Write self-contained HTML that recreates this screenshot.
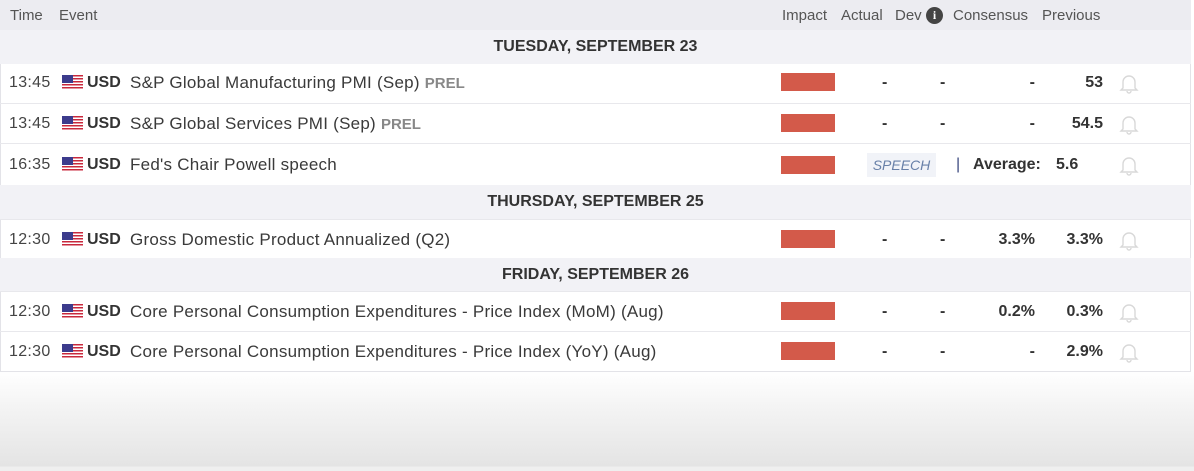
<!DOCTYPE html>
<html><head><meta charset="utf-8"><style>
*{margin:0;padding:0;box-sizing:border-box}
body{width:1194px;height:471px;overflow:hidden;font-family:"Liberation Sans",Arial,sans-serif;color:#333;position:relative;background:linear-gradient(#fff 371px,#f3f3f3 410px,#e4e4e4 466px,#efefef 467px)}
.t{position:absolute;left:0;top:0;width:1191px;height:372px;border:1px solid #e3e3e8;background:#fff}
.hd{position:absolute;left:-1px;top:-1px;width:1191px;height:31px;background:#ececf1;border-bottom:1px solid #dcdce2;font-size:15px;color:#555}
.hd span{position:absolute;top:7px}
.dr{position:absolute;left:-1px;width:1191px;background:#f2f2f6;font-weight:bold;font-size:16px;text-align:center;color:#333}
.r{position:absolute;left:-1px;width:1191px;border-top:1px solid #e8e8ec;font-size:16px}
.r span{position:absolute}
.tm{left:9px;color:#444;letter-spacing:0.3px}
.fl{left:62px;width:21px;height:15px;background:repeating-linear-gradient(#c8283c 0 1.5px,#fff 1.5px 3px)}
.fl:before{content:"";position:absolute;left:0;top:0;width:11px;height:8px;background:#3c3b8c}
.cu{left:87px;font-weight:bold}
.ev{left:130px;color:#3a3a3a;font-size:17px;letter-spacing:0.25px}
.pr{color:#888;font-weight:bold;font-size:15px;letter-spacing:0}
.im{left:781px;width:54px;height:18px;background:#d35a4a}
.d{font-weight:bold}
.v{font-weight:bold;text-align:right}
.bell{left:1119px;width:20px;height:22px}
</style></head><body>
<div class="t">
<div class="hd"><span style="left:10px">Time</span><span style="left:59px">Event</span><span style="left:782px">Impact</span><span style="left:841px">Actual</span><span style="left:895px">Dev</span>
<span style="left:926px;top:7px;width:17px;height:17px;border-radius:50%;background:#444;color:#fff;font-size:12px;font-weight:bold;text-align:center;line-height:17px;font-family:'Liberation Serif',serif">i</span>
<span style="left:953px">Consensus</span><span style="left:1042px">Previous</span></div>

<div class="dr" style="top:29px;height:34px;line-height:33px">TUESDAY, SEPTEMBER 23</div>
<div class="dr" style="top:184px;height:35px;line-height:34px">THURSDAY, SEPTEMBER 25</div>
<div class="dr" style="top:257px;height:34px;line-height:33px">FRIDAY, SEPTEMBER 26</div>

<div class="r" style="top:62px;height:40px;border-top:none"><span class="tm" style="top:11px">13:45</span><span class="fl" style="top:12px"></span><span class="cu" style="top:11px">USD</span><span class="ev" style="top:10px">S&amp;P Global Manufacturing PMI (Sep) <b class="pr">PREL</b></span><span class="im" style="top:10px"></span><span class="d" style="left:882px;top:11px">-</span><span class="d" style="left:940px;top:11px">-</span><span class="v" style="right:88px;top:11px;right:156px">-</span><span class="v" style="right:88px;top:11px">53</span><svg class="bell" style="position:absolute;top:9px" viewBox="0 0 20 22"><path d="M4 16V10a6 6 0 0 1 12 0v6l2 2H2z M8 19a2 2 0 0 0 4 0" fill="none" stroke="#d8d8d8" stroke-width="1.4"/></svg></div>
<div class="r" style="top:102px;height:40px"><span class="tm" style="top:11px">13:45</span><span class="fl" style="top:12px"></span><span class="cu" style="top:11px">USD</span><span class="ev" style="top:10px">S&amp;P Global Services PMI (Sep) <b class="pr">PREL</b></span><span class="im" style="top:10px"></span><span class="d" style="left:882px;top:11px">-</span><span class="d" style="left:940px;top:11px">-</span><span class="v" style="right:156px;top:11px">-</span><span class="v" style="right:88px;top:11px">54.5</span><svg class="bell" style="position:absolute;top:9px" viewBox="0 0 20 22"><path d="M4 16V10a6 6 0 0 1 12 0v6l2 2H2z M8 19a2 2 0 0 0 4 0" fill="none" stroke="#d8d8d8" stroke-width="1.4"/></svg></div>
<div class="r" style="top:142px;height:42px"><span class="tm" style="top:12px">16:35</span><span class="fl" style="top:13px"></span><span class="cu" style="top:12px">USD</span><span class="ev" style="top:11px">Fed's Chair Powell speech</span><span class="im" style="top:12px"></span><span style="left:867px;top:9px;width:69px;height:24px;background:#f1f3f8;color:#6880a8;font-style:italic;font-size:14px;text-align:center;line-height:24px">SPEECH</span><span style="left:956px;top:12px;color:#3c4a80">|</span><span class="d" style="left:973px;top:12px">Average:</span><span class="d" style="left:1056px;top:12px">5.6</span><svg class="bell" style="position:absolute;top:10px" viewBox="0 0 20 22"><path d="M4 16V10a6 6 0 0 1 12 0v6l2 2H2z M8 19a2 2 0 0 0 4 0" fill="none" stroke="#d8d8d8" stroke-width="1.4"/></svg></div>
<div class="r" style="top:218px;height:39px"><span class="tm" style="top:11px">12:30</span><span class="fl" style="top:12px"></span><span class="cu" style="top:11px">USD</span><span class="ev" style="top:10px">Gross Domestic Product Annualized (Q2)</span><span class="im" style="top:10px"></span><span class="d" style="left:882px;top:11px">-</span><span class="d" style="left:940px;top:11px">-</span><span class="v" style="right:156px;top:11px">3.3%</span><span class="v" style="right:88px;top:11px">3.3%</span><svg class="bell" style="position:absolute;top:9px" viewBox="0 0 20 22"><path d="M4 16V10a6 6 0 0 1 12 0v6l2 2H2z M8 19a2 2 0 0 0 4 0" fill="none" stroke="#d8d8d8" stroke-width="1.4"/></svg></div>
<div class="r" style="top:290px;height:40px"><span class="tm" style="top:11px">12:30</span><span class="fl" style="top:12px"></span><span class="cu" style="top:11px">USD</span><span class="ev" style="top:10px">Core Personal Consumption Expenditures - Price Index (MoM) (Aug)</span><span class="im" style="top:10px"></span><span class="d" style="left:882px;top:11px">-</span><span class="d" style="left:940px;top:11px">-</span><span class="v" style="right:156px;top:11px">0.2%</span><span class="v" style="right:88px;top:11px">0.3%</span><svg class="bell" style="position:absolute;top:9px" viewBox="0 0 20 22"><path d="M4 16V10a6 6 0 0 1 12 0v6l2 2H2z M8 19a2 2 0 0 0 4 0" fill="none" stroke="#d8d8d8" stroke-width="1.4"/></svg></div>
<div class="r" style="top:330px;height:40px"><span class="tm" style="top:11px">12:30</span><span class="fl" style="top:12px"></span><span class="cu" style="top:11px">USD</span><span class="ev" style="top:10px">Core Personal Consumption Expenditures - Price Index (YoY) (Aug)</span><span class="im" style="top:10px"></span><span class="d" style="left:882px;top:11px">-</span><span class="d" style="left:940px;top:11px">-</span><span class="v" style="right:156px;top:11px">-</span><span class="v" style="right:88px;top:11px">2.9%</span><svg class="bell" style="position:absolute;top:9px" viewBox="0 0 20 22"><path d="M4 16V10a6 6 0 0 1 12 0v6l2 2H2z M8 19a2 2 0 0 0 4 0" fill="none" stroke="#d8d8d8" stroke-width="1.4"/></svg></div>
</div>
</body></html>
